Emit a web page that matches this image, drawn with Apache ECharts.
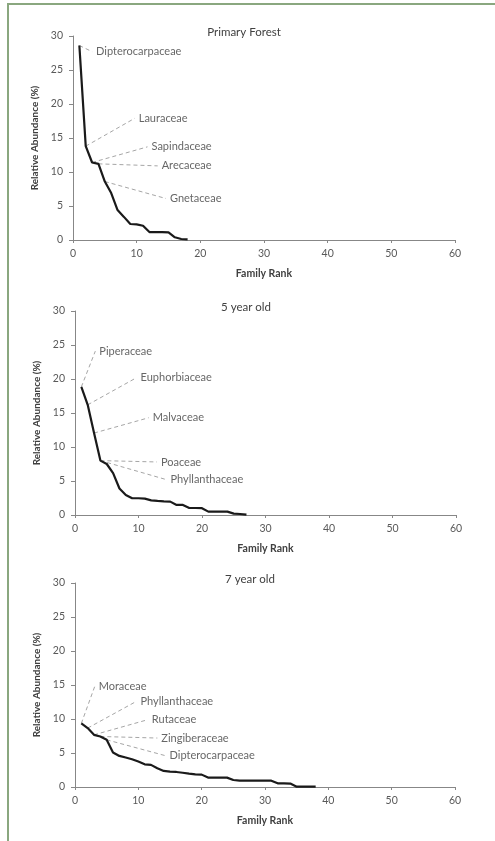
<!DOCTYPE html>
<html>
<head>
<meta charset="utf-8">
<script src="https://cdn.jsdelivr.net/npm/echarts@6/dist/echarts.min.js"></script>
<style>
html,body{margin:0;padding:0;background:#fff;}
#chart{position:absolute;left:0;top:0;width:495px;height:841px;}
#frame{position:absolute;left:7px;top:3px;width:490px;height:840px;border-top:2px solid #8aa77f;border-left:2px solid #8aa77f;pointer-events:none;}
</style>
</head>
<body>
<div id="chart"></div>
<div id="frame"></div>
<script>
// ---------- data ----------
const panelTitles = ["Primary Forest", "5 year old", "7 year old"];

const primaryRank = [1,2,3,4,5,6,7,8,9,10,11,12,13,14,15,16,17,18];
const primaryAbundance = [28.6,13.8,11.4,11.2,8.6,6.9,4.4,3.4,2.35,2.3,2.1,1.17,1.17,1.17,1.13,0.4,0.15,0.1];

const fiveRank = [1,2,3,4,5,6,7,8,9,10,11,12,13,14,15,16,17,18,19,20,21,22,23,24,25,26,27];
const fiveAbundance = [18.84,16.2,12.05,8.0,7.5,6.15,3.9,2.95,2.46,2.46,2.4,2.16,2.07,2.0,1.97,1.48,1.48,1.03,1.03,1.0,0.5,0.5,0.5,0.5,0.2,0.15,0.05];

const sevenRank = [1,2,3,4,5,6,7,8,9,10,11,12,13,14,15,16,17,18,19,20,21,22,23,24,25,26,27,28,29,30,31,32,33,34,35,36,37,38];
const sevenAbundance = [9.35,8.66,7.67,7.43,6.94,5.07,4.57,4.33,4.08,3.74,3.34,3.25,2.75,2.36,2.26,2.21,2.1,1.97,1.87,1.82,1.38,1.38,1.38,1.38,1.03,0.93,0.93,0.93,0.93,0.93,0.93,0.54,0.54,0.5,0.05,0.05,0.05,0.05];

// family annotations: name, rank the leader starts from, leader end (rank, %)
const primaryFamilies = ["Dipterocarpaceae","Lauraceae","Sapindaceae","Arecaceae","Gnetaceae"];
const primaryFrom = [1,2,3,4,5];
const primaryLabelX = [3.0,9.7,11.7,13.3,14.6];
const primaryLabelY = [27.7,17.9,13.7,10.9,6.1];

const fiveFamilies = ["Piperaceae","Euphorbiaceae","Malvaceae","Poaceae","Phyllanthaceae"];
const fiveFrom = [1,2,3,4,4];
const fiveLabelX = [3.2,9.7,11.6,12.9,14.4];
const fiveLabelY = [24.1,20.2,14.3,7.8,5.2];

const sevenFamilies = ["Moraceae","Phyllanthaceae","Rutaceae","Zingiberaceae","Dipterocarpaceae"];
const sevenFrom = [1,2,3,4,5];
const sevenLabelX = [3.1,9.7,11.5,13.0,14.3];
const sevenLabelY = [14.75,12.6,9.9,7.2,4.6];

const xTicks = [0,10,20,30,40,50,60];
const yTicks = [0,5,10,15,20,25,30];

// ---------- chart ----------
const FONT = "Lato, 'Open Sans', sans-serif";
const TXT = "#404040";
const AX = "#878787";

const panels = [
  {rank: primaryRank, val: primaryAbundance, fam: primaryFamilies, from: primaryFrom, lx: primaryLabelX, ly: primaryLabelY},
  {rank: fiveRank, val: fiveAbundance, fam: fiveFamilies, from: fiveFrom, lx: fiveLabelX, ly: fiveLabelY},
  {rank: sevenRank, val: sevenAbundance, fam: sevenFamilies, from: sevenFrom, lx: sevenLabelX, ly: sevenLabelY}
];
const gridLayout = [
  {left: 73, top: 36, width: 382, height: 204, titleX: 244, titleY: 26},
  {left: 75, top: 311, width: 381, height: 204, titleX: 246, titleY: 301},
  {left: 75, top: 583, width: 380, height: 204, titleX: 250, titleY: 573}
];

const grids = [], xAxes = [], yAxes = [], series = [], titles = [];
panels.forEach((p, i) => {
  const g = gridLayout[i];
  grids.push({left: g.left, top: g.top, width: g.width, height: g.height});
  titles.push({text: panelTitles[i], left: g.titleX, top: g.titleY, textAlign: 'center', padding: 0,
    textStyle: {fontFamily: FONT, fontSize: 11.5, fontWeight: 'normal', color: TXT}});
  xAxes.push({
    type: 'value', gridIndex: i, min: xTicks[0], max: xTicks[xTicks.length-1], interval: 10,
    name: 'Family Rank', nameLocation: 'middle', nameGap: 28,
    nameTextStyle: {fontFamily: FONT, fontSize: 10.5, fontWeight: 'bold', color: TXT},
    axisLine: {show: true, lineStyle: {color: AX, width: 1}},
    axisTick: {show: true, length: 3, lineStyle: {color: AX}},
    axisLabel: {fontFamily: FONT, fontSize: 10.5, color: '#595959', margin: 8},
    splitLine: {show: false}
  });
  yAxes.push({
    type: 'value', gridIndex: i, min: yTicks[0], max: yTicks[yTicks.length-1], interval: 5,
    name: 'Relative Abundance (%)', nameLocation: 'middle', nameGap: 25, nameRotate: 90,
    nameTextStyle: {fontFamily: FONT, fontSize: 10, fontWeight: 'bold', color: TXT},
    axisLine: {show: true, lineStyle: {color: AX, width: 1}},
    axisTick: {show: true, length: 4, lineStyle: {color: AX}},
    axisLabel: {fontFamily: FONT, fontSize: 10.5, color: '#595959', margin: 10},
    splitLine: {show: false}
  });
  // leader lines
  series.push({
    type: 'lines', coordinateSystem: 'cartesian2d', xAxisIndex: i, yAxisIndex: i,
    silent: true, z: 2,
    lineStyle: {color: '#a6a6a6', width: 1, type: [4, 3], opacity: 1},
    data: p.fam.map((f, k) => ({coords: [[p.from[k], p.val[p.from[k]-1]], [p.lx[k], p.ly[k]]]}))
  });
  // family labels
  series.push({
    type: 'scatter', xAxisIndex: i, yAxisIndex: i, symbolSize: 0, silent: true,
    label: {show: true, position: 'right', distance: 4, formatter: d => d.name,
      fontFamily: FONT, fontSize: 11, color: TXT},
    data: p.fam.map((f, k) => ({name: f, value: [p.lx[k], p.ly[k]]}))
  });
  // rank-abundance curve
  series.push({
    type: 'line', xAxisIndex: i, yAxisIndex: i, showSymbol: false, z: 3,
    lineStyle: {color: '#1a1a1a', width: 2.2},
    data: p.rank.map((r, k) => [r, p.val[k]])
  });
});

const chart = echarts.init(document.getElementById('chart'), null, {renderer: 'canvas'});
chart.setOption({
  animation: false,
  backgroundColor: '#fff',
  title: titles,
  grid: grids,
  xAxis: xAxes,
  yAxis: yAxes,
  series: series
});
</script>
</body>
</html>
